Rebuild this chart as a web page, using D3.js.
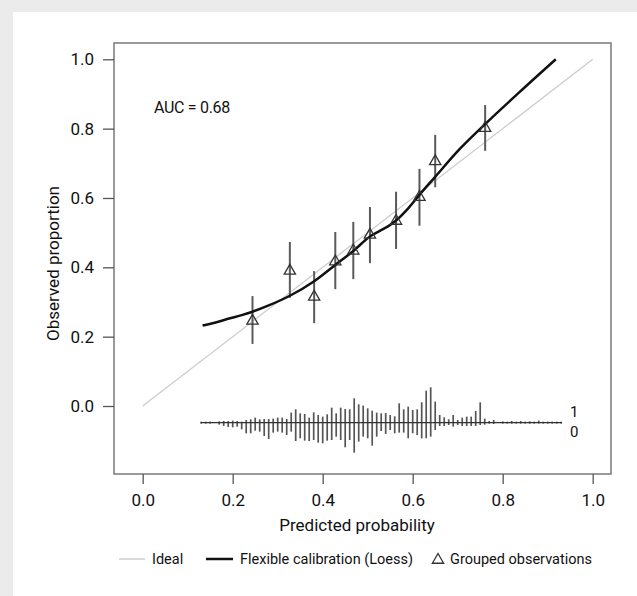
<!DOCTYPE html>
<html>
<head>
<meta charset="utf-8">
<script src="https://cdn.jsdelivr.net/npm/d3@7"></script>
<style>
  body { margin: 0; background: #ebebeb; }
  svg { display: block; }
  text { font-family: Roboto, "Open Sans", sans-serif; fill: #111; }
</style>
</head>
<body>
<div id="chart"></div>
<script>
// axis ticks
var tickValues = [0.0, 0.2, 0.4, 0.6, 0.8, 1.0];

// grouped observations (triangles with error bars)
var groupPred = [0.244, 0.327, 0.381, 0.428, 0.468, 0.505, 0.563, 0.615, 0.650, 0.761];
var groupObs  = [0.250, 0.394, 0.319, 0.421, 0.452, 0.498, 0.538, 0.607, 0.710, 0.806];
var groupLow  = [0.179, 0.312, 0.239, 0.337, 0.366, 0.412, 0.453, 0.520, 0.631, 0.736];
var groupHigh = [0.317, 0.473, 0.389, 0.502, 0.531, 0.574, 0.618, 0.684, 0.782, 0.868];

// flexible calibration (loess) curve
var loessPred = [0.133, 0.16, 0.194, 0.22, 0.244, 0.28, 0.327, 0.381, 0.428, 0.468, 0.505, 0.527, 0.545, 0.563, 0.59, 0.615, 0.65, 0.70, 0.761, 0.838, 0.918];
var loessObs  = [0.232, 0.240, 0.253, 0.262, 0.272, 0.290, 0.318, 0.360, 0.407, 0.447, 0.489, 0.505, 0.518, 0.535, 0.570, 0.609, 0.661, 0.735, 0.813, 0.906, 1.000];

// spike histogram: bins of predicted probability, counts of events (1) and non-events (0)
var spikeBins = [0.13, 0.14, 0.15, 0.16, 0.17, 0.18, 0.19, 0.20, 0.21, 0.22,
                 0.23, 0.24, 0.25, 0.26, 0.27, 0.28, 0.29, 0.30, 0.31, 0.32,
                 0.33, 0.34, 0.35, 0.36, 0.37, 0.38, 0.39, 0.40, 0.41, 0.42,
                 0.43, 0.44, 0.45, 0.46, 0.47, 0.48, 0.49, 0.50, 0.51, 0.52,
                 0.53, 0.54, 0.55, 0.56, 0.57, 0.58, 0.59, 0.60, 0.61, 0.62,
                 0.63, 0.64, 0.65, 0.66, 0.67, 0.68, 0.69, 0.70, 0.71, 0.72,
                 0.73, 0.74, 0.75, 0.76, 0.77, 0.78, 0.79, 0.80, 0.81, 0.82,
                 0.83, 0.84, 0.85, 0.86, 0.87, 0.88, 0.89, 0.90, 0.91, 0.92, 0.93];
var spikeUp = [3, 3, 3, 0, 4, 5, 5, 6, 5, 3,
               8, 10, 15, 10, 11, 11, 12, 15, 15, 11,
               30, 40, 28, 26, 15, 31, 23, 18, 25, 45,
               28, 45, 41, 40, 73, 55, 51, 43, 36, 30,
               28, 29, 23, 19, 58, 40, 48, 38, 40, 61,
               96, 106, 63, 23, 16, 10, 23, 8, 15, 18,
               18, 35, 61, 12, 5, 8, 0, 4, 3, 5,
               3, 5, 3, 4, 3, 6, 3, 3, 3, 3, 3];
var spikeDown = [3, 3, 3, 0, 6, 10, 13, 14, 12, 20,
                 32, 32, 24, 27, 40, 49, 30, 27, 30, 37,
                 27, 55, 47, 54, 55, 52, 60, 62, 54, 52,
                 42, 52, 74, 52, 90, 57, 42, 47, 69, 42,
                 25, 34, 22, 32, 30, 30, 47, 32, 37, 47,
                 47, 42, 22, 10, 10, 7, 12, 7, 10, 10,
                 10, 10, 7, 6, 3, 4, 0, 3, 3, 3,
                 3, 3, 3, 3, 3, 3, 3, 3, 3, 3, 3];

var W = 637, H = 596;

var svg = d3.select("#chart")
            .append("svg")
            .attr("width", W)
            .attr("height", H);

// white panel on the grey page
svg.append("rect")
   .attr("x", 13).attr("y", 12)
   .attr("width", W - 13).attr("height", H - 12)
   .attr("fill", "#fff");

var x = d3.scaleLinear().domain([0, 1]).range([142.7, 592.7]);
var y = d3.scaleLinear().domain([0, 1]).range([406, 59.3]);
var spikeScale = d3.scaleLinear().domain([0, 3]).range([0, 1]);

// plot box
svg.append("rect")
   .attr("x", 114).attr("y", 43)
   .attr("width", 497).attr("height", 431)
   .attr("fill", "none")
   .attr("stroke", "#7a7a7a")
   .attr("stroke-width", 1.5);

// axes
var yAxis = svg.append("g")
   .attr("transform", "translate(114,0)")
   .call(d3.axisLeft(y).tickValues(tickValues).tickFormat(d3.format(".1f")).tickSize(11).tickPadding(9));
var xAxis = svg.append("g")
   .attr("transform", "translate(0,474)")
   .call(d3.axisBottom(x).tickValues(tickValues).tickFormat(d3.format(".1f")).tickSize(10).tickPadding(10));

[yAxis, xAxis].forEach(function(g) {
    g.select(".domain").remove();
    g.attr("font-family", null).attr("font-size", null);
    g.selectAll(".tick line").attr("stroke", "#555").attr("stroke-width", 1.3);
    g.selectAll(".tick text").style("font-size", "17px").attr("fill", "#111");
});

// axis titles
svg.append("text")
   .attr("x", 357).attr("y", 531)
   .attr("text-anchor", "middle")
   .style("font-size", "17px")
   .text("Predicted probability");

svg.append("text")
   .attr("transform", "translate(53,263.5) rotate(-90)")
   .attr("text-anchor", "middle")
   .attr("dominant-baseline", "central")
   .style("font-size", "17px")
   .text("Observed proportion");

// ideal line
svg.append("line")
   .attr("x1", x(0)).attr("y1", y(0))
   .attr("x2", x(1)).attr("y2", y(1))
   .attr("stroke", "#cccccc")
   .attr("stroke-width", 1.3);

// error bars
var groups = groupPred.map(function(p, i) {
    return { p: p, obs: groupObs[i], lo: groupLow[i], hi: groupHigh[i] };
});

svg.selectAll("line.err")
   .data(groups)
   .enter()
   .append("line")
   .attr("class", "err")
   .attr("x1", function(d) { return x(d.p); })
   .attr("x2", function(d) { return x(d.p); })
   .attr("y1", function(d) { return y(d.lo); })
   .attr("y2", function(d) { return y(d.hi); })
   .attr("stroke", "#5a5a5a")
   .attr("stroke-width", 2);

// loess curve
var loess = loessPred.map(function(p, i) { return [p, loessObs[i]]; });
svg.append("path")
   .datum(loess)
   .attr("fill", "none")
   .attr("stroke", "#111")
   .attr("stroke-width", 2.5)
   .attr("d", d3.line()
                .x(function(d) { return x(d[0]); })
                .y(function(d) { return y(d[1]); })
                .curve(d3.curveMonotoneX));

// triangles
var tri = d3.symbol().type(d3.symbolTriangle).size(55);
svg.selectAll("path.tri")
   .data(groups)
   .enter()
   .append("path")
   .attr("class", "tri")
   .attr("d", tri)
   .attr("transform", function(d) { return "translate(" + x(d.p) + "," + (y(d.obs) + 1.5) + ")"; })
   .attr("fill", "none")
   .attr("stroke", "#333")
   .attr("stroke-width", 1.3);

// spike histogram
var base = y(-0.048);
var spikes = spikeBins.map(function(b, i) { return { b: b, up: spikeUp[i], down: spikeDown[i] }; });

svg.selectAll("line.spike")
   .data(spikes)
   .enter()
   .append("line")
   .attr("class", "spike")
   .attr("x1", function(d) { return x(d.b); })
   .attr("x2", function(d) { return x(d.b); })
   .attr("y1", function(d) { return base - spikeScale(d.up); })
   .attr("y2", function(d) { return base + spikeScale(d.down); })
   .attr("stroke", "#555")
   .attr("stroke-width", 1.7);

svg.append("line")
   .attr("x1", x(spikeBins[0]) - 0.5).attr("x2", x(spikeBins[spikeBins.length - 1]) + 0.5)
   .attr("y1", base).attr("y2", base)
   .attr("stroke", "#333")
   .attr("stroke-width", 1.2);

svg.append("text").attr("x", 570).attr("y", 412)
   .attr("dominant-baseline", "central").style("font-size", "15px").text("1");
svg.append("text").attr("x", 570).attr("y", 432)
   .attr("dominant-baseline", "central").style("font-size", "15px").text("0");

// AUC annotation
svg.append("text")
   .attr("x", 154).attr("y", 113)
   .style("font-size", "16px")
   .style("letter-spacing", "-0.3px")
   .text("AUC = 0.68");

// legend
var ly = 559;
var legend = svg.append("g");
legend.append("line")
   .attr("x1", 119).attr("x2", 145).attr("y1", ly).attr("y2", ly)
   .attr("stroke", "#cccccc").attr("stroke-width", 1.5);
legend.append("text").attr("x", 152).attr("y", ly)
   .attr("dominant-baseline", "central").style("font-size", "14.5px").text("Ideal");
legend.append("line")
   .attr("x1", 206).attr("x2", 233).attr("y1", ly).attr("y2", ly)
   .attr("stroke", "#111").attr("stroke-width", 2.5);
legend.append("text").attr("x", 240).attr("y", ly)
   .attr("dominant-baseline", "central").style("font-size", "14.5px").text("Flexible calibration (Loess)");
legend.append("path")
   .attr("d", tri)
   .attr("transform", "translate(438," + (ly + 1) + ")")
   .attr("fill", "none").attr("stroke", "#333").attr("stroke-width", 1.3);
legend.append("text").attr("x", 450).attr("y", ly)
   .attr("dominant-baseline", "central").style("font-size", "14.5px").text("Grouped observations");
</script>
</body>
</html>
